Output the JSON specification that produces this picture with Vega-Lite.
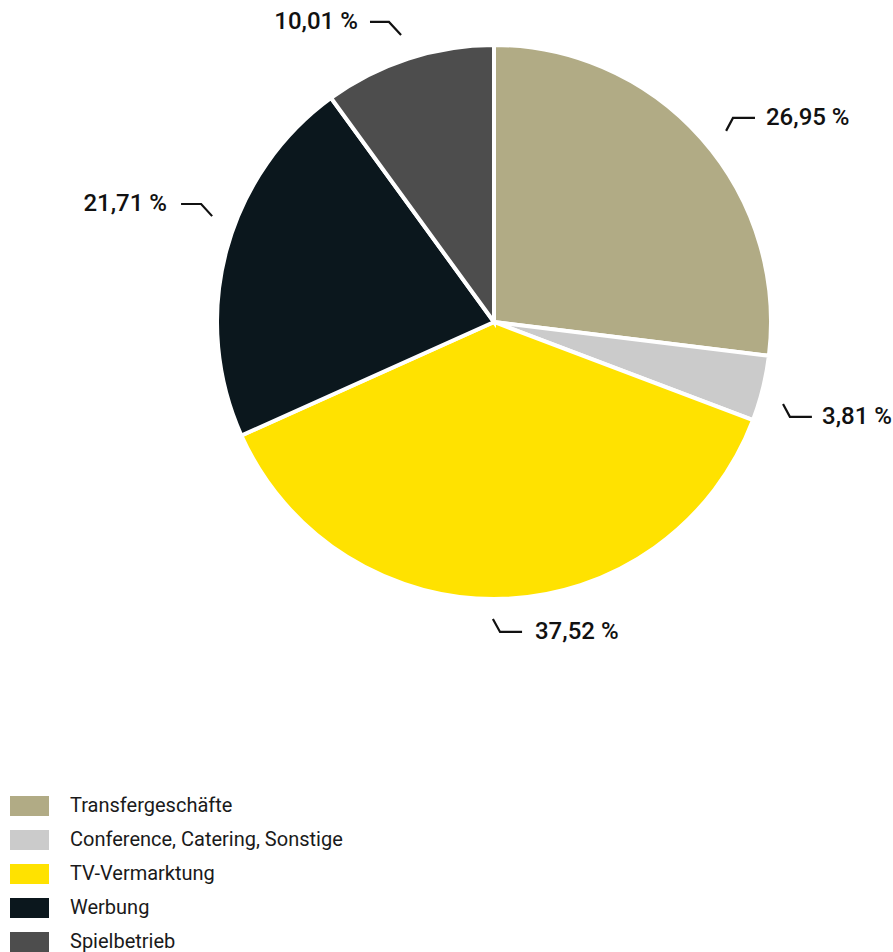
{
  "$schema": "https://vega.github.io/schema/vega-lite/v6.json",
  "width": 893,
  "height": 952,
  "padding": 0,
  "autosize": {"type": "fit", "contains": "padding"},
  "background": "white",
  "config": {"view": {"stroke": null}, "font": "Roboto"},
  "datasets": {
    "slices": [
      {"cat": "Transfergeschäfte", "value": 26.95, "idx": 1},
      {"cat": "Conference, Catering, Sonstige", "value": 3.81, "idx": 2},
      {"cat": "TV-Vermarktung", "value": 37.52, "idx": 3},
      {"cat": "Werbung", "value": 21.71, "idx": 4},
      {"cat": "Spielbetrieb", "value": 10.01, "idx": 5}
    ],
    "leaders": [
      {"lab": "10,01", "p": 1, "u": -0.451, "v": 1.091},
      {"lab": "10,01", "p": 2, "u": -0.382, "v": 1.091},
      {"lab": "10,01", "p": 3, "u": -0.338, "v": 1.044},
      {"lab": "21,71", "p": 1, "u": -1.138, "v": 0.429},
      {"lab": "21,71", "p": 2, "u": -1.065, "v": 0.429},
      {"lab": "21,71", "p": 3, "u": -1.025, "v": 0.385},
      {"lab": "26,95", "p": 1, "u": 0.844, "v": 0.695},
      {"lab": "26,95", "p": 2, "u": 0.869, "v": 0.742},
      {"lab": "26,95", "p": 3, "u": 0.949, "v": 0.742},
      {"lab": "3,81", "p": 1, "u": 1.051, "v": -0.298},
      {"lab": "3,81", "p": 2, "u": 1.076, "v": -0.345},
      {"lab": "3,81", "p": 3, "u": 1.156, "v": -0.345},
      {"lab": "37,52", "p": 1, "u": -0.004, "v": -1.080},
      {"lab": "37,52", "p": 2, "u": 0.022, "v": -1.127},
      {"lab": "37,52", "p": 3, "u": 0.102, "v": -1.127}
    ],
    "labels": [
      {"text": "10,01 %", "side": "right", "u": -0.495, "v": 1.091},
      {"text": "21,71 %", "side": "right", "u": -1.189, "v": 0.429},
      {"text": "26,95 %", "side": "left", "u": 0.989, "v": 0.742},
      {"text": "3,81 %", "side": "left", "u": 1.193, "v": -0.345},
      {"text": "37,52 %", "side": "left", "u": 0.149, "v": -1.127}
    ]
  },
  "layer": [
    {
      "data": {"name": "slices"},
      "mark": {"type": "arc", "outerRadius": 277, "stroke": "white", "strokeWidth": 4},
      "encoding": {
        "x": {"datum": 0, "type": "quantitative", "scale": {"domain": [-1.7964, 1.4509], "nice": false, "zero": false}, "axis": null},
        "y": {"datum": 0, "type": "quantitative", "scale": {"domain": [-2.2909, 1.1709], "nice": false, "zero": false}, "axis": null},
        "theta": {"field": "value", "type": "quantitative", "stack": true},
        "order": {"field": "idx", "type": "quantitative"},
        "color": {
          "field": "cat",
          "type": "nominal",
          "sort": ["Transfergeschäfte", "Conference, Catering, Sonstige", "TV-Vermarktung", "Werbung", "Spielbetrieb"],
          "scale": {
            "domain": ["Transfergeschäfte", "Conference, Catering, Sonstige", "TV-Vermarktung", "Werbung", "Spielbetrieb"],
            "range": ["#b1ab85", "#cbcbcb", "#ffe200", "#0b171d", "#4d4d4d"]
          },
          "legend": {
            "title": null,
            "orient": "none",
            "legendX": 10,
            "legendY": 789,
            "padding": 0,
            "symbolType": "M-1,-0.513H1V0.513H-1Z",
            "symbolSize": 1521,
            "symbolStrokeWidth": 0,
            "symbolOffset": 0,
            "labelOffset": 21,
            "labelFont": "Roboto",
            "labelFontSize": 20,
            "labelColor": "#1a1a1a",
            "clipHeight": 34,
            "rowPadding": 0,
            "labelLimit": 500
          }
        }
      }
    },
    {
      "data": {"name": "leaders"},
      "mark": {"type": "line", "color": "#111111", "strokeWidth": 2.2},
      "encoding": {
        "x": {"field": "u", "type": "quantitative"},
        "y": {"field": "v", "type": "quantitative"},
        "detail": {"field": "lab"},
        "order": {"field": "p", "type": "quantitative"}
      }
    },
    {
      "data": {"name": "labels"},
      "transform": [{"filter": "datum.side === 'left'"}],
      "mark": {"type": "text", "align": "left", "baseline": "middle", "fontSize": 24, "fontWeight": 500, "color": "#111111", "font": "Roboto"},
      "encoding": {
        "x": {"field": "u", "type": "quantitative"},
        "y": {"field": "v", "type": "quantitative"},
        "text": {"field": "text"}
      }
    },
    {
      "data": {"name": "labels"},
      "transform": [{"filter": "datum.side === 'right'"}],
      "mark": {"type": "text", "align": "right", "baseline": "middle", "fontSize": 24, "fontWeight": 500, "color": "#111111", "font": "Roboto"},
      "encoding": {
        "x": {"field": "u", "type": "quantitative"},
        "y": {"field": "v", "type": "quantitative"},
        "text": {"field": "text"}
      }
    }
  ]
}
